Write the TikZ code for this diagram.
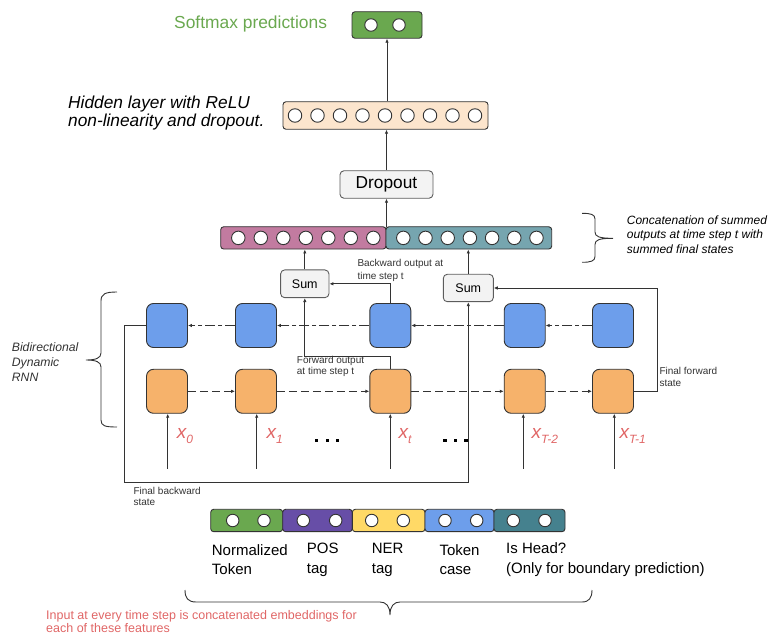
\documentclass[tikz,border=0pt]{standalone}
\usepackage{fontspec}
\setmainfont{Liberation Sans}
\usetikzlibrary{arrows.meta}

\definecolor{smgreen}{HTML}{6AA84F}
\definecolor{smtext}{HTML}{6AA84F}
\definecolor{peach}{HTML}{FCE5CD}
\definecolor{bwpink}{HTML}{C27BA0}
\definecolor{fwteal}{HTML}{76A5AF}
\definecolor{cellblue}{HTML}{6D9EEB}
\definecolor{cellorange}{HTML}{F6B26B}
\definecolor{featpurple}{HTML}{674EA7}
\definecolor{featyellow}{HTML}{FFD966}
\definecolor{featteal}{HTML}{45818E}
\definecolor{boxgray}{HTML}{F3F3F3}
\definecolor{inred}{HTML}{E06666}
\definecolor{ink}{HTML}{333333}

\newcommand{\setfs}[2]{\fontsize{#1}{#2}\selectfont}

\begin{document}
\begin{tikzpicture}[x=1pt,y=-1pt,
  bar/.style={draw=ink,line width=0.9pt,rounded corners=3pt,inner sep=0pt},
  dot/.style={circle,draw=ink,fill=white,line width=0.9pt,minimum size=13.5pt,inner sep=0pt},
  sdot/.style={circle,draw=ink,fill=white,line width=0.9pt,minimum size=12.5pt,inner sep=0pt},
  gbox/.style={draw=ink!80,fill=boxgray,line width=0.9pt,rounded corners=4pt,inner sep=0pt},
  cell/.style={draw=ink,line width=0.9pt,rounded corners=7pt,minimum width=41pt,minimum height=44pt,inner sep=0pt},
  txt/.style={inner sep=0pt,align=left,anchor=west},
  arr/.style={draw=ink,line width=0.8pt,-{Latex[length=4pt,width=3.5pt]}},
  fwdash/.style={arr,dash pattern=on 8pt off 4pt},
  bwdash/.style={arr,dash pattern=on 10pt off 3pt on 4pt off 3pt},
  brace/.style={draw=ink,line width=0.9pt},
  xlab/.style={inner sep=0pt,anchor=west,text=inred},
  note/.style={txt,text=ink,font=\setfs{10}{12}}
]
\useasboundingbox (0,0) rectangle (772,636);

% ---------- output layers ----------
\node[txt,text=smtext,font=\setfs{17.4}{20}] (smlabel) at (174,24.5) {Softmax predictions};
\node[bar,fill=smgreen,minimum width=70pt,minimum height=26.5pt] (soft) at (387,25) {};
\node[sdot] (sd0) at (371,25) {};
\node[sdot] (sd1) at (399,25) {};

\node[txt,font=\setfs{17.3}{16}\itshape] (hidlabel) at (68,113) {Hidden layer with ReLU\\ non-linearity and dropout.};
\node[bar,fill=peach,minimum width=205pt,minimum height=27.5pt] (hid) at (385.5,115.5) {};
\foreach \i in {0,...,8} \node[dot] (h\i) at ({295+22.5*\i},115.5) {};

\node[gbox,minimum width=93pt,minimum height=27.5pt,font=\setfs{17.3}{20}] (drop) at (386.5,184.5) {Dropout};

% ---------- concatenated summed outputs ----------
\node[bar,fill=bwpink,minimum width=165.3pt,minimum height=22.3pt] (catb) at (303.35,237.9) {};
\node[bar,fill=fwteal,minimum width=165.7pt,minimum height=22.3pt] (catf) at (468.85,237.9) {};
\foreach \i in {0,...,6} \node[dot] (cb\i) at ({238.3+22.5*\i},237.9) {};
\foreach \i in {0,...,6} \node[dot] (cf\i) at ({403.3+22.2*\i},237.9) {};
\coordinate (catmid) at (386.5,226.7);

\draw[arr] (drop.north) -- (hid.south -| drop.north);
\draw[arr] (hid.north -| soft.south) -- (soft.south);
\draw[arr] (catmid) -- (drop.south -| catmid);

\node[txt,font=\setfs{12}{14.6}\itshape] (catlabel) at (626.7,234.5) {Concatenation of summed\\ outputs at time step t with\\ summed final states};
\draw[brace] (582,213.3) .. controls (591,213.3) and (595,214.5) .. (595,219) -- (595,232)
  .. controls (595,236.5) and (599,238.3) .. (613,238.3)
  .. controls (599,238.3) and (595,240) .. (595,244.5) -- (595,256.5)
  .. controls (595,261) and (591,262.3) .. (582,262.3);

% ---------- sums ----------
\node[gbox,minimum width=48.3pt,minimum height=27.7pt,font=\setfs{12.5}{14}] (sumL) at (304.8,283.8) {Sum};
\node[gbox,minimum width=50pt,minimum height=27.4pt,font=\setfs{12.5}{14}] (sumR) at (468.3,288) {Sum};
\draw[arr] (sumL.north) -- (catb.south -| sumL.north);
\draw[arr] (sumR.north) -- (catf.south -| sumR.north);

% ---------- bidirectional RNN cells ----------
\foreach \n/\x in {0/167,1/256,2/390.3,3/524.7,4/613} {
  \node[cell,fill=cellblue] (b\n) at (\x,325.5) {};
  \node[cell,fill=cellorange] (o\n) at (\x,391.3) {};
}

% backward chain (right to left)
\draw[bwdash] (b1.west) -- (b0.east);
\draw[bwdash] (b2.west) -- (b1.east);
\draw[bwdash] (b3.west) -- (b2.east);
\draw[bwdash] (b4.west) -- (b3.east);
% forward chain (left to right)
\draw[fwdash] (o0.east) -- (o1.west);
\draw[fwdash] (o1.east) -- (o2.west);
\draw[fwdash] (o2.east) -- (o3.west);
\draw[fwdash] (o3.east) -- (o4.west);

% outputs at time step t
\draw[arr] (b2.north) |- (sumL.east);
\draw[arr] (o2.north) -- ++(0,-12.6) -| (sumL.south);
% final states
\draw[arr] (b0.west) -- ++(-22,0) -- ++(0,157) -| (sumR.south);
\draw[arr] (o4.east) -- ++(23,0) |- (sumR.east);

\node[note,font=\setfs{10}{12.4}] (bolabel) at (357.3,270.5) {Backward output at\\ time step t};
\node[note,font=\setfs{10}{11.6}] (folabel) at (296.7,366.5) {Forward output\\ at time step t};
\node[note,font=\setfs{10}{12.3}] (fflabel) at (659.3,377.2) {Final forward\\ state};
\node[note,font=\setfs{10}{11.3}] (fblabel) at (133.3,496.7) {Final backward\\ state};

% inputs
\foreach \n/\x in {0/167.7,1/256.7,2/390.3,3/523.3,4/614.3} {
  \coordinate (in\n) at (\x,469);
  \draw[arr] (in\n) -- (o\n.south -| in\n);
}
\node[xlab] (x0) at (176.7,436) {\setfs{19}{20}\itshape x\raisebox{-5pt}{\setfs{12}{12}0}};
\node[xlab] (x1) at (266.5,436) {\setfs{19}{20}\itshape x\raisebox{-5pt}{\setfs{12}{12}1}};
\node[xlab] (xt) at (398.3,436) {\setfs{19}{20}\itshape x\raisebox{-5pt}{\setfs{12}{12}t}};
\node[xlab] (xT2) at (531.5,436) {\setfs{19}{20}\itshape x\raisebox{-5pt}{\setfs{12}{12}T-2}};
\node[xlab] (xT1) at (619.3,436) {\setfs{19}{20}\itshape x\raisebox{-5pt}{\setfs{12}{12}T-1}};

% ellipses between time steps
\foreach \x in {316.7,327.3,337.7,445,455.7,465.9}
  \fill[black] (\x-1.6,440.7-1.6) rectangle (\x+1.6,440.7+1.6);

% brace for the RNN
\node[txt,text=ink,font=\setfs{12.2}{15}\itshape] (rnnlabel) at (11.7,361.7) {Bidirectional\\ Dynamic\\ RNN};
\draw[brace] (117,292) .. controls (105,292) and (101,294) .. (101,301) -- (101,353)
  .. controls (101,358) and (96,360) .. (86,360)
  .. controls (96,360) and (101,362) .. (101,367) -- (101,420)
  .. controls (101,426) and (105,427) .. (117,427);

% ---------- input feature embeddings ----------
\node[bar,fill=smgreen,minimum width=72pt,minimum height=22.4pt] (fnorm) at (246.7,520.5) {};
\node[bar,fill=featpurple,minimum width=69.6pt,minimum height=22.4pt] (fpos) at (317.5,520.5) {};
\node[bar,fill=featyellow,minimum width=72.7pt,minimum height=22.4pt] (fner) at (388.65,520.5) {};
\node[bar,fill=cellblue,minimum width=69pt,minimum height=22.4pt] (fcase) at (459.5,520.5) {};
\node[bar,fill=featteal,minimum width=71pt,minimum height=22.4pt] (fhead) at (529.5,520.5) {};
\foreach \n/\a/\b in {norm/232.7/264,pos/303.3/335.7,ner/371.7/403.3,case/445/476.7,head/513.3/545} {
  \node[sdot] (d\n a) at (\a,520.5) {};
  \node[sdot] (d\n b) at (\b,520.5) {};
}

\node[txt,font=\setfs{15}{19.5}] (lnorm) at (211.7,559.7) {Normalized\\ Token};
\node[txt,font=\setfs{15}{19.5}] (lpos) at (306.7,559.7) {POS\\ tag};
\node[txt,font=\setfs{15}{19.5}] (lner) at (371.7,559.7) {NER\\ tag};
\node[txt,font=\setfs{15}{19.5}] (lcase) at (439.3,559.7) {Token\\ case};
\node[txt,font=\setfs{15}{19.5}] (lhead) at (506,559.7) {Is Head?\\ (Only for boundary prediction)};

\draw[brace] (185,590) .. controls (185,598) and (188,602) .. (196,602) -- (380,602)
  .. controls (386,602) and (390,606) .. (390,615)
  .. controls (390,606) and (394,602) .. (400,602) -- (582,602)
  .. controls (589,602) and (592,598) .. (592,590);

\node[txt,text=inred,font=\setfs{12.5}{13.5}] (inlabel) at (46,621.5) {Input at every time step is concatenated embeddings for\\ each of these features};
\end{tikzpicture}
\end{document}
